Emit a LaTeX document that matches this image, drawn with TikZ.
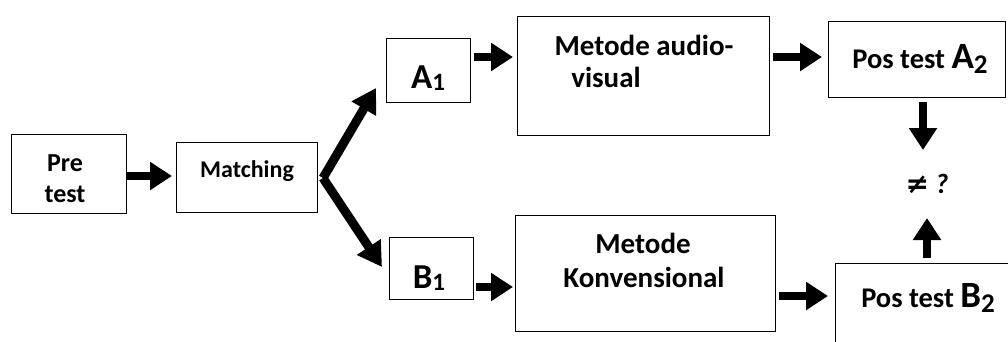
\documentclass[tikz,border=0pt]{standalone}
\usepackage{fontspec}
\setmainfont{Carlito}
\newfontfamily\symfont{DejaVu Sans}
\usetikzlibrary{arrows.meta}
% letter with a lowered, smaller index: \idx{main size}{index size}{drop}{letter}{index}
\newcommand\idx[5]{{\fontsize{#1}{#1}\selectfont #4}{\raisebox{-#3}{\fontsize{#2}{#2}\selectfont #5}}}
\tikzset{
  box/.style={draw, line width=1.2pt, rectangle, inner sep=0pt, anchor=north west},
  lbl/.style={font=\bfseries\fontsize{24}{28}\selectfont, inner sep=0pt, anchor=base},
  mid/.style={font=\bfseries\fontsize{29}{33}\selectfont, inner sep=0pt, anchor=base},
  arr/.style={line width=7.5pt, -{Triangle[length=22pt,width=27pt]}},
  darr/.style={line width=9pt, -{Triangle[length=24pt,width=27pt]}},
}
\begin{document}
\begin{tikzpicture}[x=1pt,y=-1pt]
\useasboundingbox (0,0) rectangle (1008,341);

% boxes
\node[box, minimum width=115pt, minimum height=79pt] (pre) at (11,134) {};
\node[box, minimum width=141pt, minimum height=70pt] (mat) at (176,142) {};
\node[box, minimum width=84pt, minimum height=64pt] (a1) at (386,38) {};
\node[box, minimum width=84pt, minimum height=62pt] (b1) at (389,237) {};
\node[box, minimum width=252pt, minimum height=119pt] (mav) at (517,16) {};
\node[box, minimum width=260pt, minimum height=116pt] (mk) at (515,215) {};
\node[box, minimum width=177pt, minimum height=76pt] (pa) at (828,21) {};
\node[box, minimum width=200pt, minimum height=100pt] (pb) at (835,263) {};

% texts
\node[lbl, font=\bfseries\fontsize{26}{30}\selectfont] (preT1) at (65,171) {Pre};
\node[lbl, font=\bfseries\fontsize{26}{30}\selectfont] (preT2) at (65,202) {test};
\node[lbl] (matT) at (247,177) {Matching};
\node[lbl] (a1T) at (428,88) {\idx{35}{25}{2pt}{A}{1}};
\node[lbl] (b1T) at (429,288) {\idx{35}{25}{2pt}{B}{1}};
\node[mid] (mavT1) at (644,55) {Metode audio-};
\node[mid] (mavT2) at (606,87) {visual};
\node[mid] (mkT1) at (643,253) {Metode};
\node[mid] (mkT2) at (644,287) {Konvensional};
\node[lbl, font=\bfseries\fontsize{28.5}{32}\selectfont] (paT) at (920,68) {Pos test \idx{37}{27}{5pt}{A}{2}};
\node[lbl, font=\bfseries\fontsize{28.5}{32}\selectfont] (pbT) at (928,307) {Pos test \idx{37}{27}{5pt}{B}{2}};
\node[lbl, font=\bfseries\itshape\fontsize{28}{32}\selectfont] (neq) at (927,193) {{\symfont\bfseries\itshape ≠} ?};

% connectors
\coordinate (fork) at (323,178);
\coordinate (upTip) at (376,88);
\coordinate (downTip) at (382,267);
\draw[arr] (pre.east |- 0,176) -- ([xshift=-4pt]mat.west |- 0,176);
\draw[darr] (fork) -- (upTip);
\draw[darr] (fork) -- (downTip);
\draw[arr] ([xshift=3pt]a1.east |- 0,57) -- ([xshift=-4pt]mav.west |- 0,57);
\draw[arr] ([xshift=2pt]b1.east |- 0,287) -- ([xshift=-2pt]mk.west |- 0,287);
\draw[arr] ([xshift=3pt]mav.east |- 0,57) -- ([xshift=-6pt]pa.west |- 0,57);
\draw[arr] ([xshift=3pt]mk.east |- 0,296) -- ([xshift=-7pt]pb.west |- 0,296);
\draw[arr] ([yshift=-4pt]pa.south -| 923,0) -- (923,150);
\draw[arr] ([yshift=5pt]pb.north -| 927,0) -- (927,218);
\end{tikzpicture}
\end{document}
